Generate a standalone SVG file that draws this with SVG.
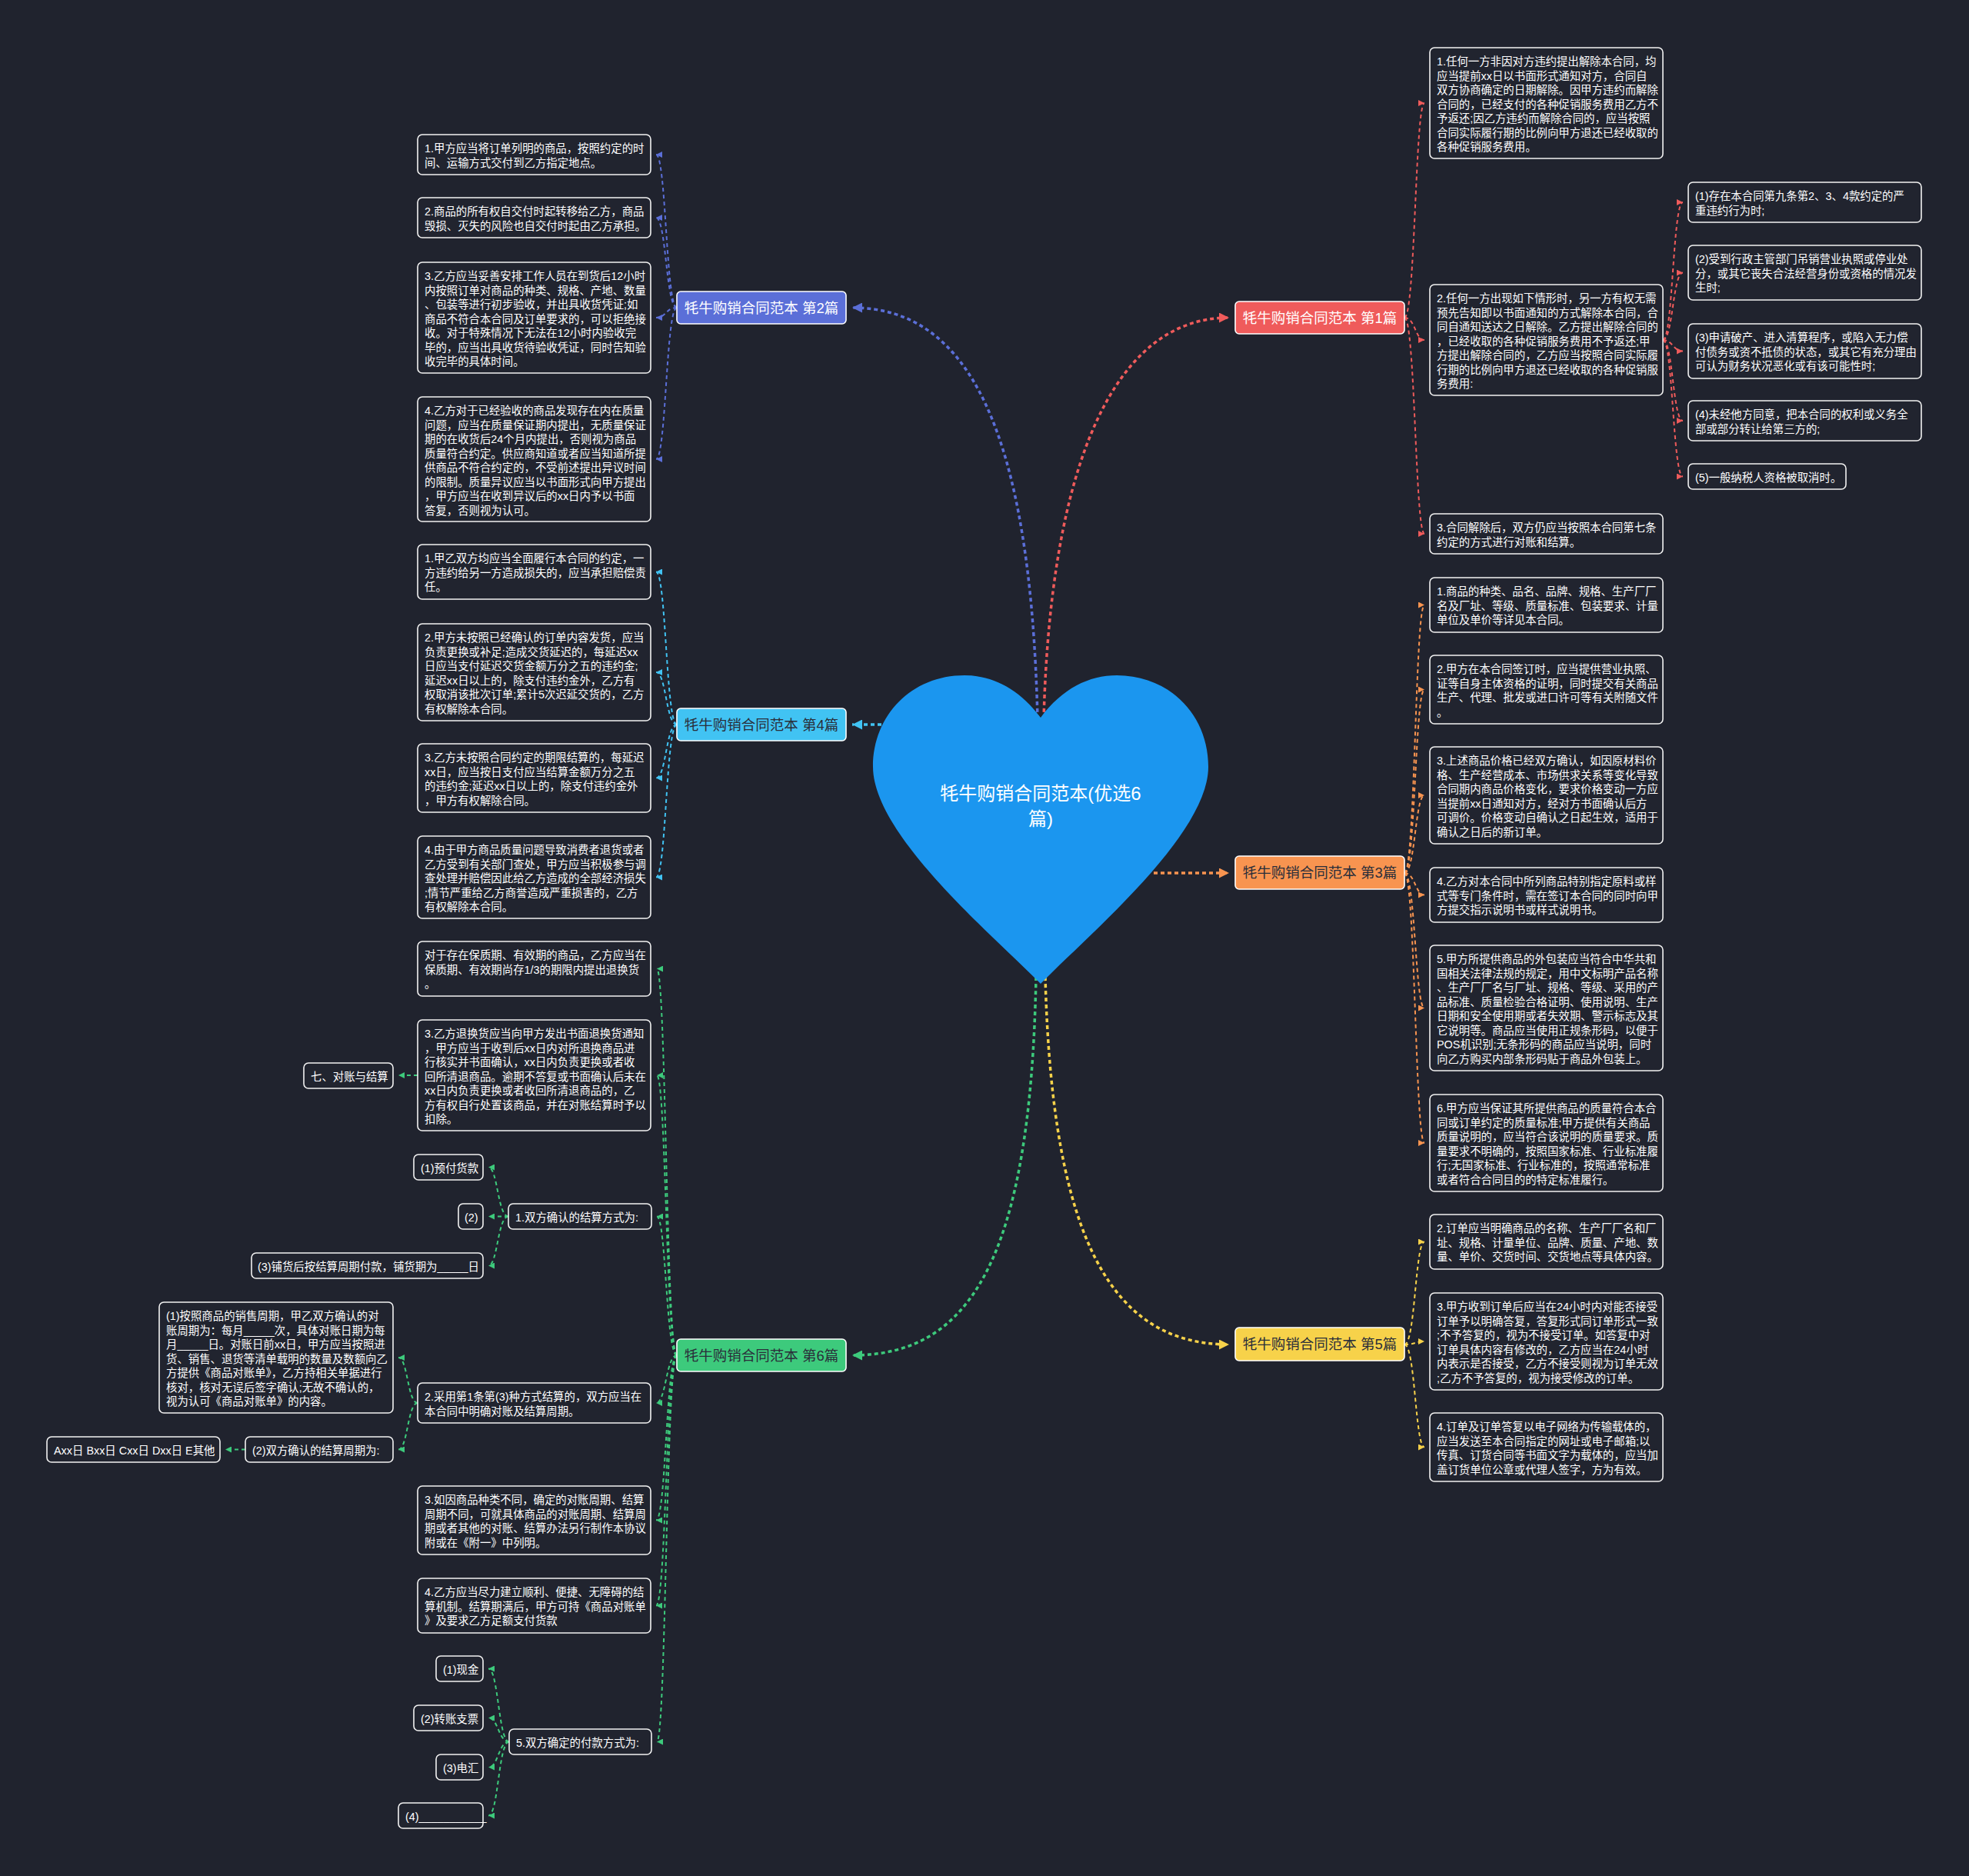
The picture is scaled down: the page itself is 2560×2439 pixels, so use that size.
<svg xmlns="http://www.w3.org/2000/svg" width="2560" height="2439" viewBox="0 0 2560 2439">
<style>
.bg{fill:#20232e}
.n{fill:#21242f;stroke:#f2f2f2;stroke-width:1.6}
.t{font-family:"Liberation Sans","Noto Sans CJK SC",sans-serif;font-size:14.4px;fill:#ffffff}
.lb{stroke:#ffffff;stroke-width:1.6}
.lt{font-family:"Liberation Sans","Noto Sans CJK SC",sans-serif;font-size:18.5px;text-anchor:middle}
.ht{font-family:"Liberation Sans","Noto Sans CJK SC",sans-serif;font-size:24px;fill:#ffffff;text-anchor:middle}
.c{fill:none;stroke-width:2;stroke-dasharray:5 4}
.m{fill:none;stroke-width:3.5;stroke-dasharray:5 4}
.k1{stroke:#ef5b5b}.k2{stroke:#5b6fd8}.k3{stroke:#f89450}.k4{stroke:#41c3f3}.k5{stroke:#f7d24a}.k6{stroke:#3dca7c}
</style>
<defs>
<marker id="a1" markerUnits="userSpaceOnUse" viewBox="0 0 10 10" refX="10" refY="5" markerWidth="8" markerHeight="8" orient="auto"><path d="M0,0 L10,5 L0,10 z" fill="#ef5b5b"/></marker>
<marker id="a2" markerUnits="userSpaceOnUse" viewBox="0 0 10 10" refX="10" refY="5" markerWidth="8" markerHeight="8" orient="auto"><path d="M0,0 L10,5 L0,10 z" fill="#5b6fd8"/></marker>
<marker id="a3" markerUnits="userSpaceOnUse" viewBox="0 0 10 10" refX="10" refY="5" markerWidth="8" markerHeight="8" orient="auto"><path d="M0,0 L10,5 L0,10 z" fill="#f89450"/></marker>
<marker id="a4" markerUnits="userSpaceOnUse" viewBox="0 0 10 10" refX="10" refY="5" markerWidth="8" markerHeight="8" orient="auto"><path d="M0,0 L10,5 L0,10 z" fill="#41c3f3"/></marker>
<marker id="a5" markerUnits="userSpaceOnUse" viewBox="0 0 10 10" refX="10" refY="5" markerWidth="8" markerHeight="8" orient="auto"><path d="M0,0 L10,5 L0,10 z" fill="#f7d24a"/></marker>
<marker id="a6" markerUnits="userSpaceOnUse" viewBox="0 0 10 10" refX="10" refY="5" markerWidth="8" markerHeight="8" orient="auto"><path d="M0,0 L10,5 L0,10 z" fill="#3dca7c"/></marker>
<marker id="b1" markerUnits="userSpaceOnUse" viewBox="0 0 10 10" refX="10" refY="5" markerWidth="13" markerHeight="13" orient="auto"><path d="M0,0 L10,5 L0,10 z" fill="#ef5b5b"/></marker>
<marker id="b2" markerUnits="userSpaceOnUse" viewBox="0 0 10 10" refX="10" refY="5" markerWidth="13" markerHeight="13" orient="auto"><path d="M0,0 L10,5 L0,10 z" fill="#5b6fd8"/></marker>
<marker id="b3" markerUnits="userSpaceOnUse" viewBox="0 0 10 10" refX="10" refY="5" markerWidth="13" markerHeight="13" orient="auto"><path d="M0,0 L10,5 L0,10 z" fill="#f89450"/></marker>
<marker id="b4" markerUnits="userSpaceOnUse" viewBox="0 0 10 10" refX="10" refY="5" markerWidth="13" markerHeight="13" orient="auto"><path d="M0,0 L10,5 L0,10 z" fill="#41c3f3"/></marker>
<marker id="b5" markerUnits="userSpaceOnUse" viewBox="0 0 10 10" refX="10" refY="5" markerWidth="13" markerHeight="13" orient="auto"><path d="M0,0 L10,5 L0,10 z" fill="#f7d24a"/></marker>
<marker id="b6" markerUnits="userSpaceOnUse" viewBox="0 0 10 10" refX="10" refY="5" markerWidth="13" markerHeight="13" orient="auto"><path d="M0,0 L10,5 L0,10 z" fill="#3dca7c"/></marker>
</defs>
<rect class="bg" x="0" y="0" width="2560" height="2439"/>

<g id="connectors">
<!-- main -->
<path class="m k2" marker-end="url(#b2)" d="M1349,935 C1340,560 1260,400 1108,400"/>
<path class="m k1" marker-end="url(#b1)" d="M1357,935 C1366,600 1450,413 1598,413"/>
<path class="m k4" marker-end="url(#b4)" d="M1200,942 L1108,942"/>
<path class="m k3" marker-end="url(#b3)" d="M1500,1135 L1598,1135"/>
<path class="m k6" marker-end="url(#b6)" d="M1347,1270 C1340,1640 1260,1762 1108,1762"/>
<path class="m k5" marker-end="url(#b5)" d="M1359,1270 C1368,1620 1450,1748 1598,1748"/>
<!-- branch 2 -->
<path class="c k2" marker-end="url(#a2)" d="M880,400 C866,400 866,201 853,201"/>
<path class="c k2" marker-end="url(#a2)" d="M880,400 C866,400 866,283 853,283"/>
<path class="c k2" marker-end="url(#a2)" d="M880,400 C866,400 866,413 853,413"/>
<path class="c k2" marker-end="url(#a2)" d="M880,400 C866,400 866,597 853,597"/>
<!-- branch 4 -->
<path class="c k4" marker-end="url(#a4)" d="M880,942 C866,942 866,743.5 853,743.5"/>
<path class="c k4" marker-end="url(#a4)" d="M880,942 C866,942 866,874 853,874"/>
<path class="c k4" marker-end="url(#a4)" d="M880,942 C866,942 866,1011.5 853,1011.5"/>
<path class="c k4" marker-end="url(#a4)" d="M880,942 C866,942 866,1140.5 853,1140.5"/>
<!-- branch 6 -->
<path class="c k6" marker-end="url(#a6)" d="M880,1762 C866,1762 866,1259.5 854,1259.5"/>
<path class="c k6" marker-end="url(#a6)" d="M880,1762 C866,1762 866,1398 854,1398"/>
<path class="c k6" marker-end="url(#a6)" d="M880,1762 C866,1762 866,1581.5 854,1581.5"/>
<path class="c k6" marker-end="url(#a6)" d="M880,1762 C866,1762 866,1824 853,1824"/>
<path class="c k6" marker-end="url(#a6)" d="M880,1762 C866,1762 866,1976.5 853,1976.5"/>
<path class="c k6" marker-end="url(#a6)" d="M880,1762 C866,1762 866,2087.5 853,2087.5"/>
<path class="c k6" marker-end="url(#a6)" d="M880,1762 C866,1762 866,2264.5 854,2264.5"/>
<path class="c k6" marker-end="url(#a6)" d="M543,1398 L518,1398"/>
<path class="c k6" marker-end="url(#a6)" d="M661,1581.5 C647,1581.5 647,1517.5 635,1517.5"/>
<path class="c k6" marker-end="url(#a6)" d="M661,1581.5 L635,1581.5"/>
<path class="c k6" marker-end="url(#a6)" d="M661,1581.5 C647,1581.5 647,1645.5 635,1645.5"/>
<path class="c k6" marker-end="url(#a6)" d="M543,1824 C530,1824 530,1765 518,1765"/>
<path class="c k6" marker-end="url(#a6)" d="M543,1824 C530,1824 530,1884.5 518,1884.5"/>
<path class="c k6" marker-end="url(#a6)" d="M319,1884.5 L293,1884.5"/>
<path class="c k6" marker-end="url(#a6)" d="M662,2264.5 C648,2264.5 648,2169.5 635,2169.5"/>
<path class="c k6" marker-end="url(#a6)" d="M662,2264.5 C648,2264.5 648,2233.5 635,2233.5"/>
<path class="c k6" marker-end="url(#a6)" d="M662,2264.5 C648,2264.5 648,2297.5 635,2297.5"/>
<path class="c k6" marker-end="url(#a6)" d="M662,2264.5 C648,2264.5 648,2360.5 635,2360.5"/>
<!-- branch 1 -->
<path class="c k1" marker-end="url(#a1)" d="M1826,413 C1840,413 1840,134 1852,134"/>
<path class="c k1" marker-end="url(#a1)" d="M1826,413 C1840,413 1840,442 1852,442"/>
<path class="c k1" marker-end="url(#a1)" d="M1826,413 C1840,413 1840,694 1852,694"/>
<path class="c k1" marker-end="url(#a1)" d="M2162,442 C2175,442 2175,263 2188,263"/>
<path class="c k1" marker-end="url(#a1)" d="M2162,442 C2175,442 2175,354.5 2188,354.5"/>
<path class="c k1" marker-end="url(#a1)" d="M2162,442 C2175,442 2175,456.5 2188,456.5"/>
<path class="c k1" marker-end="url(#a1)" d="M2162,442 C2175,442 2175,547 2188,547"/>
<path class="c k1" marker-end="url(#a1)" d="M2162,442 C2175,442 2175,619.5 2188,619.5"/>
<!-- branch 3 -->
<path class="c k3" marker-end="url(#a3)" d="M1826,1135 C1840,1135 1840,786.5 1852,786.5"/>
<path class="c k3" marker-end="url(#a3)" d="M1826,1135 C1840,1135 1840,896.5 1852,896.5"/>
<path class="c k3" marker-end="url(#a3)" d="M1826,1135 C1840,1135 1840,1034 1852,1034"/>
<path class="c k3" marker-end="url(#a3)" d="M1826,1135 C1840,1135 1840,1163.5 1852,1163.5"/>
<path class="c k3" marker-end="url(#a3)" d="M1826,1135 C1840,1135 1840,1310.5 1852,1310.5"/>
<path class="c k3" marker-end="url(#a3)" d="M1826,1135 C1840,1135 1840,1486 1852,1486"/>
<!-- branch 5 -->
<path class="c k5" marker-end="url(#a5)" d="M1826,1748 C1840,1748 1840,1614.5 1852,1614.5"/>
<path class="c k5" marker-end="url(#a5)" d="M1826,1748 C1840,1748 1840,1744 1852,1744"/>
<path class="c k5" marker-end="url(#a5)" d="M1826,1748 C1840,1748 1840,1881.5 1852,1881.5"/>
</g>

<g id="root">
<path fill="#1b96ef" d="M1353,933 C1325,895 1290,878 1254,878 C1185,878 1135,930 1135,997 C1135,1085 1290,1215 1353,1279 C1416,1215 1571,1085 1571,997 C1571,930 1521,878 1452,878 C1416,878 1381,895 1353,933 Z"/>
<text class="ht" x="1353" y="1040">牦牛购销合同范本(优选6</text>
<text class="ht" x="1353" y="1073">篇)</text>
</g>

<g id="label-2"><rect class="lb" x="880" y="379" width="220" height="42" rx="5" fill="#5b6fd8"/><text class="lt" x="990" y="406.5" fill="#ffffff">牦牛购销合同范本 第2篇</text></g>
<g id="label-4"><rect class="lb" x="880" y="921" width="220" height="42" rx="5" fill="#41c3f3"/><text class="lt" x="990" y="948.5" fill="#2a2e3a">牦牛购销合同范本 第4篇</text></g>
<g id="label-6"><rect class="lb" x="880" y="1741" width="220" height="42" rx="5" fill="#3dca7c"/><text class="lt" x="990" y="1768.5" fill="#2a2e3a">牦牛购销合同范本 第6篇</text></g>
<g id="label-1"><rect class="lb" x="1606" y="392" width="220" height="42" rx="5" fill="#ef5b5b"/><text class="lt" x="1716" y="419.5" fill="#ffffff">牦牛购销合同范本 第1篇</text></g>
<g id="label-3"><rect class="lb" x="1606" y="1113" width="220" height="43" rx="5" fill="#f89450"/><text class="lt" x="1716" y="1141" fill="#2a2e3a">牦牛购销合同范本 第3篇</text></g>
<g id="label-5"><rect class="lb" x="1606" y="1726" width="220" height="43" rx="5" fill="#f7d24a"/><text class="lt" x="1716" y="1754" fill="#2a2e3a">牦牛购销合同范本 第5篇</text></g>

<!-- branch 2 nodes -->
<g id="b2-1"><rect class="n" x="543" y="175" width="303" height="52" rx="6"/><text class="t" x="552" y="198"><tspan x="552">1.甲方应当将订单列明的商品，按照约定的时</tspan><tspan x="552" dy="18.5">间、运输方式交付到乙方指定地点。</tspan></text></g>
<g id="b2-2"><rect class="n" x="543" y="257" width="303" height="52" rx="6"/><text class="t" x="552" y="280"><tspan x="552">2.商品的所有权自交付时起转移给乙方，商品</tspan><tspan x="552" dy="18.5">毁损、灭失的风险也自交付时起由乙方承担。</tspan></text></g>
<g id="b2-3"><rect class="n" x="543" y="341" width="303" height="144" rx="6"/><text class="t" x="552" y="364"><tspan x="552">3.乙方应当妥善安排工作人员在到货后12小时</tspan><tspan x="552" dy="18.5">内按照订单对商品的种类、规格、产地、数量</tspan><tspan x="552" dy="18.5">、包装等进行初步验收，并出具收货凭证;如</tspan><tspan x="552" dy="18.5">商品不符合本合同及订单要求的，可以拒绝接</tspan><tspan x="552" dy="18.5">收。对于特殊情况下无法在12小时内验收完</tspan><tspan x="552" dy="18.5">毕的，应当出具收货待验收凭证，同时告知验</tspan><tspan x="552" dy="18.5">收完毕的具体时间。</tspan></text></g>
<g id="b2-4"><rect class="n" x="543" y="516" width="303" height="162" rx="6"/><text class="t" x="552" y="539"><tspan x="552">4.乙方对于已经验收的商品发现存在内在质量</tspan><tspan x="552" dy="18.5">问题，应当在质量保证期内提出，无质量保证</tspan><tspan x="552" dy="18.5">期的在收货后24个月内提出，否则视为商品</tspan><tspan x="552" dy="18.5">质量符合约定。供应商知道或者应当知道所提</tspan><tspan x="552" dy="18.5">供商品不符合约定的，不受前述提出异议时间</tspan><tspan x="552" dy="18.5">的限制。质量异议应当以书面形式向甲方提出</tspan><tspan x="552" dy="18.5">，甲方应当在收到异议后的xx日内予以书面</tspan><tspan x="552" dy="18.5">答复，否则视为认可。</tspan></text></g>

<!-- branch 4 nodes -->
<g id="b4-1"><rect class="n" x="543" y="708" width="303" height="71" rx="6"/><text class="t" x="552" y="731"><tspan x="552">1.甲乙双方均应当全面履行本合同的约定，一</tspan><tspan x="552" dy="18.5">方违约给另一方造成损失的，应当承担赔偿责</tspan><tspan x="552" dy="18.5">任。</tspan></text></g>
<g id="b4-2"><rect class="n" x="543" y="811" width="303" height="126" rx="6"/><text class="t" x="552" y="834"><tspan x="552">2.甲方未按照已经确认的订单内容发货，应当</tspan><tspan x="552" dy="18.5">负责更换或补足;造成交货延迟的，每延迟xx</tspan><tspan x="552" dy="18.5">日应当支付延迟交货金额万分之五的违约金;</tspan><tspan x="552" dy="18.5">延迟xx日以上的，除支付违约金外，乙方有</tspan><tspan x="552" dy="18.5">权取消该批次订单;累计5次迟延交货的，乙方</tspan><tspan x="552" dy="18.5">有权解除本合同。</tspan></text></g>
<g id="b4-3"><rect class="n" x="543" y="967" width="303" height="89" rx="6"/><text class="t" x="552" y="990"><tspan x="552">3.乙方未按照合同约定的期限结算的，每延迟</tspan><tspan x="552" dy="18.5">xx日，应当按日支付应当结算金额万分之五</tspan><tspan x="552" dy="18.5">的违约金;延迟xx日以上的，除支付违约金外</tspan><tspan x="552" dy="18.5">，甲方有权解除合同。</tspan></text></g>
<g id="b4-4"><rect class="n" x="543" y="1087" width="303" height="107" rx="6"/><text class="t" x="552" y="1110"><tspan x="552">4.由于甲方商品质量问题导致消费者退货或者</tspan><tspan x="552" dy="18.5">乙方受到有关部门查处，甲方应当积极参与调</tspan><tspan x="552" dy="18.5">查处理并赔偿因此给乙方造成的全部经济损失</tspan><tspan x="552" dy="18.5">;情节严重给乙方商誉造成严重损害的，乙方</tspan><tspan x="552" dy="18.5">有权解除本合同。</tspan></text></g>

<!-- branch 6 nodes -->
<g id="b6-a"><rect class="n" x="543" y="1224" width="303" height="71" rx="6"/><text class="t" x="552" y="1247"><tspan x="552">对于存在保质期、有效期的商品，乙方应当在</tspan><tspan x="552" dy="18.5">保质期、有效期尚存1/3的期限内提出退换货</tspan><tspan x="552" dy="18.5">。</tspan></text></g>
<g id="b6-b"><rect class="n" x="543" y="1326" width="303" height="144" rx="6"/><text class="t" x="552" y="1349"><tspan x="552">3.乙方退换货应当向甲方发出书面退换货通知</tspan><tspan x="552" dy="18.5">，甲方应当于收到后xx日内对所退换商品进</tspan><tspan x="552" dy="18.5">行核实并书面确认，xx日内负责更换或者收</tspan><tspan x="552" dy="18.5">回所清退商品。逾期不答复或书面确认后未在</tspan><tspan x="552" dy="18.5">xx日内负责更换或者收回所清退商品的，乙</tspan><tspan x="552" dy="18.5">方有权自行处置该商品，并在对账结算时予以</tspan><tspan x="552" dy="18.5">扣除。</tspan></text></g>
<g id="b6-b1"><rect class="n" x="395" y="1382" width="116" height="33" rx="6"/><text class="t" x="404" y="1405">七、对账与结算</text></g>
<g id="b6-c"><rect class="n" x="661" y="1565" width="186" height="33" rx="6"/><text class="t" x="670" y="1588">1.双方确认的结算方式为:</text></g>
<g id="b6-c1"><rect class="n" x="538" y="1501" width="90" height="33" rx="6"/><text class="t" x="547" y="1524">(1)预付货款</text></g>
<g id="b6-c2"><rect class="n" x="596" y="1565" width="32" height="33" rx="6"/><text class="t" x="604" y="1588">(2)</text></g>
<g id="b6-c3"><rect class="n" x="327" y="1629" width="301" height="33" rx="6"/><text class="t" x="335" y="1652">(3)铺货后按结算周期付款，铺货期为_____日</text></g>
<g id="b6-d"><rect class="n" x="543" y="1798" width="303" height="52" rx="6"/><text class="t" x="552" y="1821"><tspan x="552">2.采用第1条第(3)种方式结算的，双方应当在</tspan><tspan x="552" dy="18.5">本合同中明确对账及结算周期。</tspan></text></g>
<g id="b6-d1"><rect class="n" x="207" y="1693" width="304" height="144" rx="6"/><text class="t" x="216" y="1716"><tspan x="216">(1)按照商品的销售周期，甲乙双方确认的对</tspan><tspan x="216" dy="18.5">账周期为：每月_____次，具体对账日期为每</tspan><tspan x="216" dy="18.5">月_____日。对账日前xx日，甲方应当按照进</tspan><tspan x="216" dy="18.5">货、销售、退货等清单载明的数量及数额向乙</tspan><tspan x="216" dy="18.5">方提供《商品对账单》，乙方持相关单据进行</tspan><tspan x="216" dy="18.5">核对，核对无误后签字确认;无故不确认的，</tspan><tspan x="216" dy="18.5">视为认可《商品对账单》的内容。</tspan></text></g>
<g id="b6-d2"><rect class="n" x="319" y="1868" width="192" height="33" rx="6"/><text class="t" x="328" y="1891">(2)双方确认的结算周期为:</text></g>
<g id="b6-d2a"><rect class="n" x="61" y="1868" width="225" height="33" rx="6"/><text class="t" x="70" y="1891">Axx日 Bxx日 Cxx日 Dxx日 E其他</text></g>
<g id="b6-e"><rect class="n" x="543" y="1932" width="303" height="89" rx="6"/><text class="t" x="552" y="1955"><tspan x="552">3.如因商品种类不同，确定的对账周期、结算</tspan><tspan x="552" dy="18.5">周期不同，可就具体商品的对账周期、结算周</tspan><tspan x="552" dy="18.5">期或者其他的对账、结算办法另行制作本协议</tspan><tspan x="552" dy="18.5">附或在《附一》中列明。</tspan></text></g>
<g id="b6-f"><rect class="n" x="543" y="2052" width="303" height="71" rx="6"/><text class="t" x="552" y="2075"><tspan x="552">4.乙方应当尽力建立顺利、便捷、无障碍的结</tspan><tspan x="552" dy="18.5">算机制。结算期满后，甲方可持《商品对账单</tspan><tspan x="552" dy="18.5">》及要求乙方足额支付货款</tspan></text></g>
<g id="b6-g"><rect class="n" x="662" y="2248" width="185" height="33" rx="6"/><text class="t" x="671" y="2271">5.双方确定的付款方式为:</text></g>
<g id="b6-g1"><rect class="n" x="567" y="2153" width="61" height="33" rx="6"/><text class="t" x="576" y="2176">(1)现金</text></g>
<g id="b6-g2"><rect class="n" x="538" y="2217" width="90" height="33" rx="6"/><text class="t" x="547" y="2240">(2)转账支票</text></g>
<g id="b6-g3"><rect class="n" x="567" y="2281" width="61" height="33" rx="6"/><text class="t" x="576" y="2304">(3)电汇</text></g>
<g id="b6-g4"><rect class="n" x="518" y="2344" width="110" height="33" rx="6"/><text class="t" x="527" y="2367">(4)___________</text></g>

<!-- branch 1 nodes -->
<g id="b1-1"><rect class="n" x="1859" y="62" width="303" height="144" rx="6"/><text class="t" x="1868" y="85"><tspan x="1868">1.任何一方非因对方违约提出解除本合同，均</tspan><tspan x="1868" dy="18.5">应当提前xx日以书面形式通知对方，合同自</tspan><tspan x="1868" dy="18.5">双方协商确定的日期解除。因甲方违约而解除</tspan><tspan x="1868" dy="18.5">合同的，已经支付的各种促销服务费用乙方不</tspan><tspan x="1868" dy="18.5">予返还;因乙方违约而解除合同的，应当按照</tspan><tspan x="1868" dy="18.5">合同实际履行期的比例向甲方退还已经收取的</tspan><tspan x="1868" dy="18.5">各种促销服务费用。</tspan></text></g>
<g id="b1-2"><rect class="n" x="1859" y="370" width="303" height="144" rx="6"/><text class="t" x="1868" y="393"><tspan x="1868">2.任何一方出现如下情形时，另一方有权无需</tspan><tspan x="1868" dy="18.5">预先告知即以书面通知的方式解除本合同，合</tspan><tspan x="1868" dy="18.5">同自通知送达之日解除。乙方提出解除合同的</tspan><tspan x="1868" dy="18.5">，已经收取的各种促销服务费用不予返还;甲</tspan><tspan x="1868" dy="18.5">方提出解除合同的，乙方应当按照合同实际履</tspan><tspan x="1868" dy="18.5">行期的比例向甲方退还已经收取的各种促销服</tspan><tspan x="1868" dy="18.5">务费用:</tspan></text></g>
<g id="b1-3"><rect class="n" x="1859" y="668" width="303" height="52" rx="6"/><text class="t" x="1868" y="691"><tspan x="1868">3.合同解除后，双方仍应当按照本合同第七条</tspan><tspan x="1868" dy="18.5">约定的方式进行对账和结算。</tspan></text></g>
<g id="b1-2-1"><rect class="n" x="2195" y="237" width="303" height="52" rx="6"/><text class="t" x="2204" y="260"><tspan x="2204">(1)存在本合同第九条第2、3、4款约定的严</tspan><tspan x="2204" dy="18.5">重违约行为时;</tspan></text></g>
<g id="b1-2-2"><rect class="n" x="2195" y="319" width="303" height="71" rx="6"/><text class="t" x="2204" y="342"><tspan x="2204">(2)受到行政主管部门吊销营业执照或停业处</tspan><tspan x="2204" dy="18.5">分，或其它丧失合法经营身份或资格的情况发</tspan><tspan x="2204" dy="18.5">生时;</tspan></text></g>
<g id="b1-2-3"><rect class="n" x="2195" y="421" width="303" height="71" rx="6"/><text class="t" x="2204" y="444"><tspan x="2204">(3)申请破产、进入清算程序，或陷入无力偿</tspan><tspan x="2204" dy="18.5">付债务或资不抵债的状态，或其它有充分理由</tspan><tspan x="2204" dy="18.5">可认为财务状况恶化或有该可能性时;</tspan></text></g>
<g id="b1-2-4"><rect class="n" x="2195" y="521" width="303" height="52" rx="6"/><text class="t" x="2204" y="544"><tspan x="2204">(4)未经他方同意，把本合同的权利或义务全</tspan><tspan x="2204" dy="18.5">部或部分转让给第三方的;</tspan></text></g>
<g id="b1-2-5"><rect class="n" x="2195" y="603" width="205" height="33" rx="6"/><text class="t" x="2204" y="626">(5)一般纳税人资格被取消时。</text></g>

<!-- branch 3 nodes -->
<g id="b3-1"><rect class="n" x="1859" y="751" width="303" height="71" rx="6"/><text class="t" x="1868" y="774"><tspan x="1868">1.商品的种类、品名、品牌、规格、生产厂厂</tspan><tspan x="1868" dy="18.5">名及厂址、等级、质量标准、包装要求、计量</tspan><tspan x="1868" dy="18.5">单位及单价等详见本合同。</tspan></text></g>
<g id="b3-2"><rect class="n" x="1859" y="852" width="303" height="89" rx="6"/><text class="t" x="1868" y="875"><tspan x="1868">2.甲方在本合同签订时，应当提供营业执照、</tspan><tspan x="1868" dy="18.5">证等自身主体资格的证明，同时提交有关商品</tspan><tspan x="1868" dy="18.5">生产、代理、批发或进口许可等有关附随文件</tspan><tspan x="1868" dy="18.5">。</tspan></text></g>
<g id="b3-3"><rect class="n" x="1859" y="971" width="303" height="126" rx="6"/><text class="t" x="1868" y="994"><tspan x="1868">3.上述商品价格已经双方确认，如因原材料价</tspan><tspan x="1868" dy="18.5">格、生产经营成本、市场供求关系等变化导致</tspan><tspan x="1868" dy="18.5">合同期内商品价格变化，要求价格变动一方应</tspan><tspan x="1868" dy="18.5">当提前xx日通知对方，经对方书面确认后方</tspan><tspan x="1868" dy="18.5">可调价。价格变动自确认之日起生效，适用于</tspan><tspan x="1868" dy="18.5">确认之日后的新订单。</tspan></text></g>
<g id="b3-4"><rect class="n" x="1859" y="1128" width="303" height="71" rx="6"/><text class="t" x="1868" y="1151"><tspan x="1868">4.乙方对本合同中所列商品特别指定原料或样</tspan><tspan x="1868" dy="18.5">式等专门条件时，需在签订本合同的同时向甲</tspan><tspan x="1868" dy="18.5">方提交指示说明书或样式说明书。</tspan></text></g>
<g id="b3-5"><rect class="n" x="1859" y="1229" width="303" height="163" rx="6"/><text class="t" x="1868" y="1252"><tspan x="1868">5.甲方所提供商品的外包装应当符合中华共和</tspan><tspan x="1868" dy="18.5">国相关法律法规的规定，用中文标明产品名称</tspan><tspan x="1868" dy="18.5">、生产厂厂名与厂址、规格、等级、采用的产</tspan><tspan x="1868" dy="18.5">品标准、质量检验合格证明、使用说明、生产</tspan><tspan x="1868" dy="18.5">日期和安全使用期或者失效期、警示标志及其</tspan><tspan x="1868" dy="18.5">它说明等。商品应当使用正规条形码，以便于</tspan><tspan x="1868" dy="18.5">POS机识别;无条形码的商品应当说明，同时</tspan><tspan x="1868" dy="18.5">向乙方购买内部条形码贴于商品外包装上。</tspan></text></g>
<g id="b3-6"><rect class="n" x="1859" y="1423" width="303" height="126" rx="6"/><text class="t" x="1868" y="1446"><tspan x="1868">6.甲方应当保证其所提供商品的质量符合本合</tspan><tspan x="1868" dy="18.5">同或订单约定的质量标准;甲方提供有关商品</tspan><tspan x="1868" dy="18.5">质量说明的，应当符合该说明的质量要求。质</tspan><tspan x="1868" dy="18.5">量要求不明确的，按照国家标准、行业标准履</tspan><tspan x="1868" dy="18.5">行;无国家标准、行业标准的，按照通常标准</tspan><tspan x="1868" dy="18.5">或者符合合同目的的特定标准履行。</tspan></text></g>

<!-- branch 5 nodes -->
<g id="b5-2"><rect class="n" x="1859" y="1579" width="303" height="71" rx="6"/><text class="t" x="1868" y="1602"><tspan x="1868">2.订单应当明确商品的名称、生产厂厂名和厂</tspan><tspan x="1868" dy="18.5">址、规格、计量单位、品牌、质量、产地、数</tspan><tspan x="1868" dy="18.5">量、单价、交货时间、交货地点等具体内容。</tspan></text></g>
<g id="b5-3"><rect class="n" x="1859" y="1681" width="303" height="126" rx="6"/><text class="t" x="1868" y="1704"><tspan x="1868">3.甲方收到订单后应当在24小时内对能否接受</tspan><tspan x="1868" dy="18.5">订单予以明确答复，答复形式同订单形式一致</tspan><tspan x="1868" dy="18.5">;不予答复的，视为不接受订单。如答复中对</tspan><tspan x="1868" dy="18.5">订单具体内容有修改的，乙方应当在24小时</tspan><tspan x="1868" dy="18.5">内表示是否接受，乙方不接受则视为订单无效</tspan><tspan x="1868" dy="18.5">;乙方不予答复的，视为接受修改的订单。</tspan></text></g>
<g id="b5-4"><rect class="n" x="1859" y="1837" width="303" height="89" rx="6"/><text class="t" x="1868" y="1860"><tspan x="1868">4.订单及订单答复以电子网络为传输载体的，</tspan><tspan x="1868" dy="18.5">应当发送至本合同指定的网址或电子邮箱;以</tspan><tspan x="1868" dy="18.5">传真、订货合同等书面文字为载体的，应当加</tspan><tspan x="1868" dy="18.5">盖订货单位公章或代理人签字，方为有效。</tspan></text></g>
</svg>
